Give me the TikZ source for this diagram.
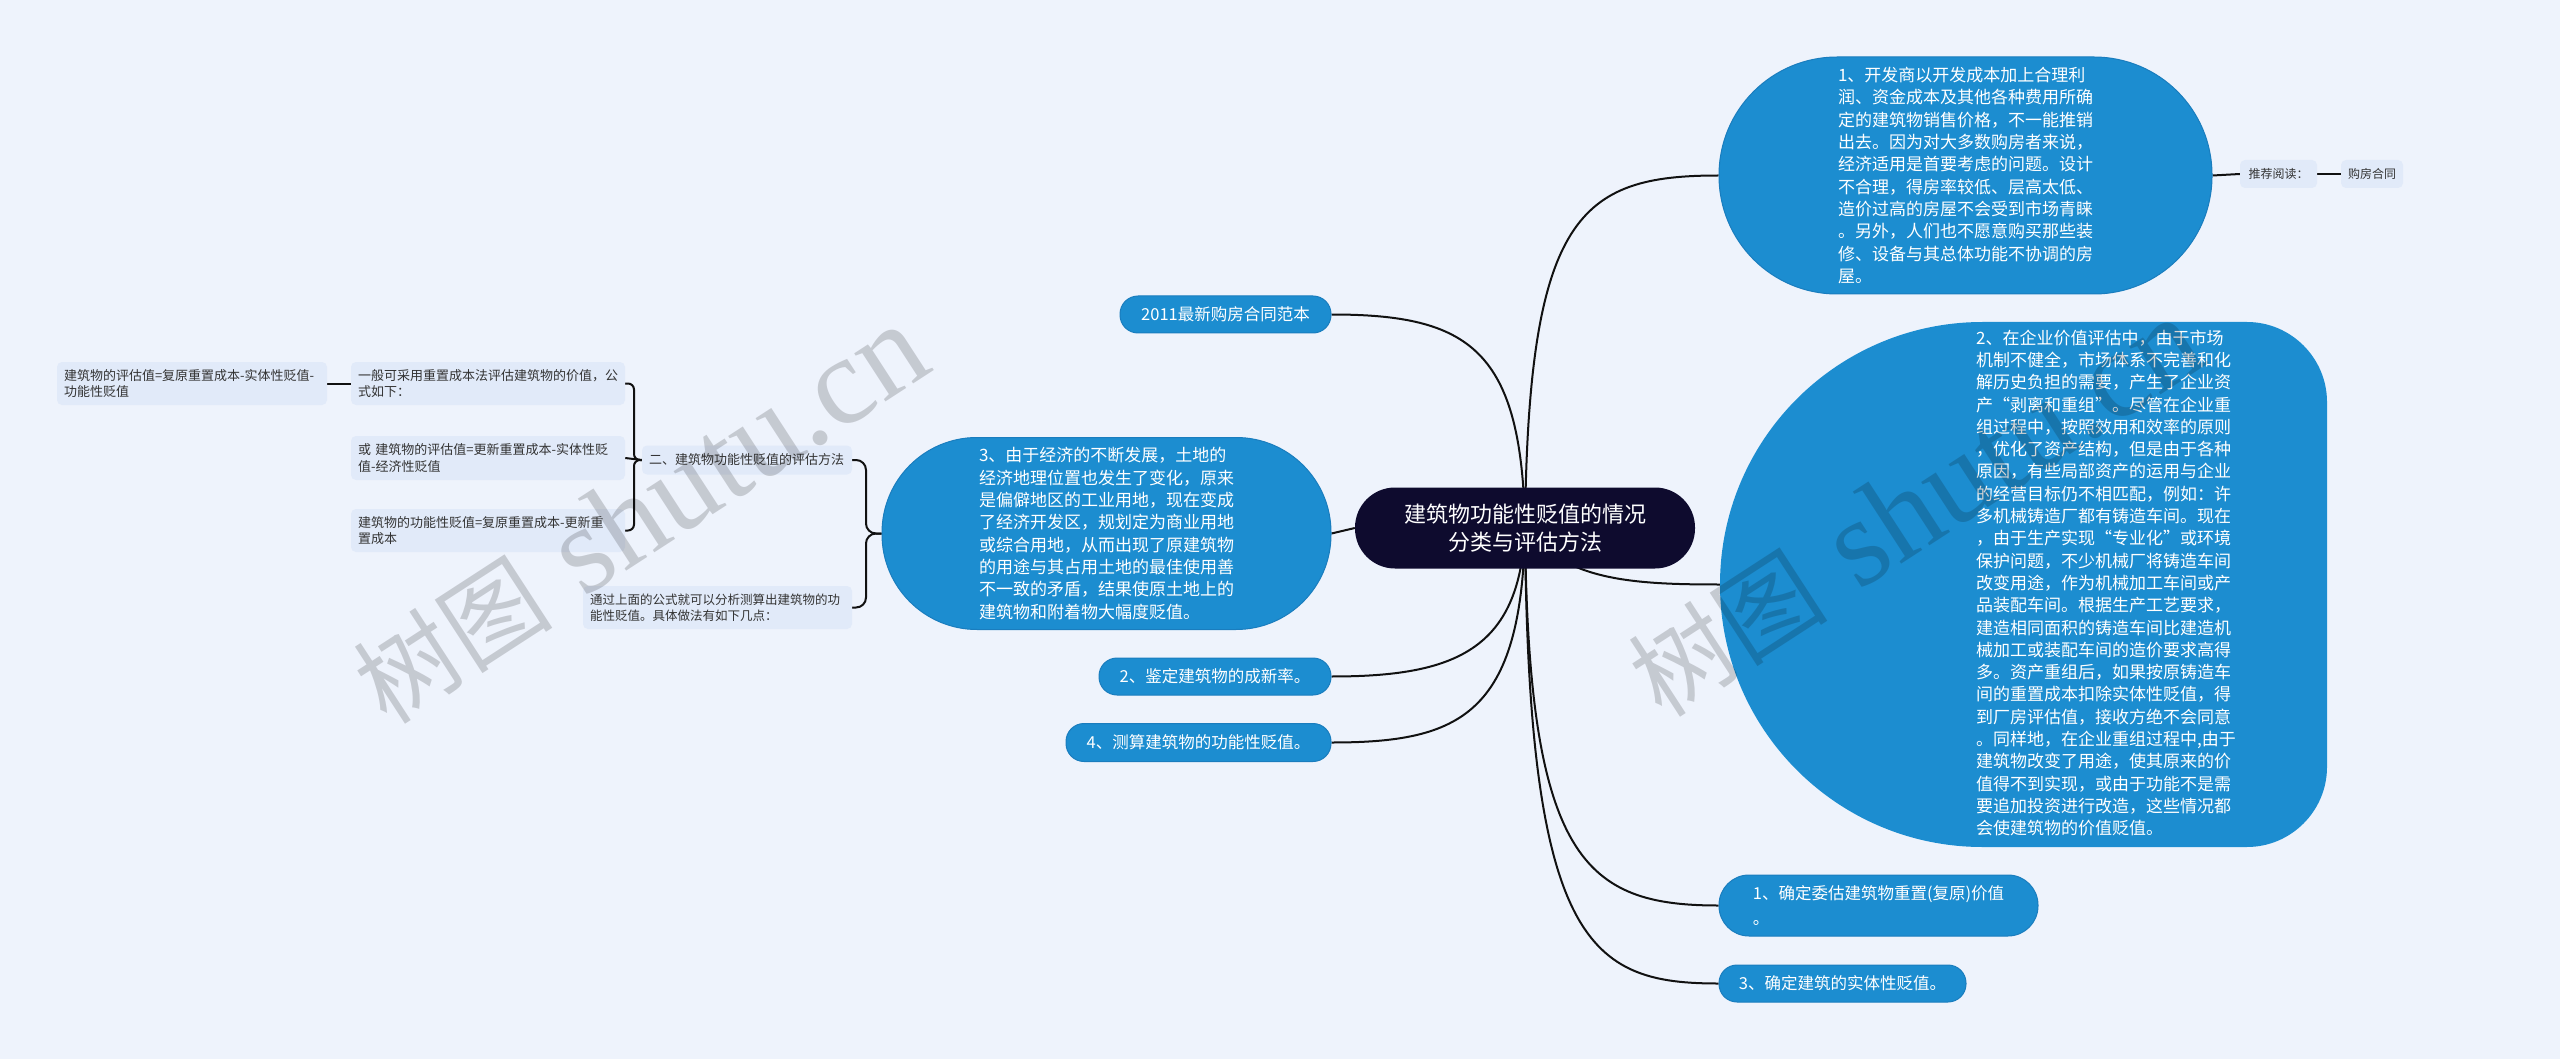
\documentclass[tikz,border=0pt]{standalone}
\usepackage{fontspec}
\setmainfont{Noto Sans CJK SC}
\newfontfamily\wmcjk{Noto Sans CJK SC}
\newfontfamily\wmlat{Liberation Serif}
\usetikzlibrary{calc}
\definecolor{bgc}{HTML}{EEF3FC}
\definecolor{nb}{HTML}{1C8DD0}
\definecolor{nbd}{HTML}{1A7DBE}
\definecolor{navy}{HTML}{0E0B2E}
\definecolor{lightbox}{HTML}{E1EAF9}
\definecolor{ltext}{HTML}{333333}
\definecolor{linec}{HTML}{111111}
\pgfdeclarelayer{back}
\pgfdeclarelayer{lines}
\pgfsetlayers{back,lines,main}
\tikzset{
  bluenode/.style={fill=nb, draw=nbd, line width=1, text=white, inner sep=0,
    font=\fontsize{17}{22.3}\selectfont, align=left},
  smallblue/.style={fill=nb, draw=nbd, line width=1, text=white, inner sep=0,
    font=\fontsize{16.5}{20}\selectfont, align=center, rounded corners=18},
  rootnode/.style={fill=navy, text=white, inner sep=0, align=center,
    font=\fontsize{22}{28}\selectfont, rounded corners=40,
    minimum width=340, minimum height=81},
  lbox/.style={fill=lightbox, text=ltext, rounded corners=5, inner xsep=7,
    inner ysep=0, align=left, font=\fontsize{13}{16.5}\selectfont},
  tbox/.style={fill=lightbox, text=ltext, rounded corners=5, inner sep=0,
    align=center, font=\fontsize{12}{14}\selectfont, minimum height=28},
  conn/.style={draw=linec, line width=2},
  wm/.style={text=black, text opacity=0.17, inner sep=0}
}
\newcommand\wmtext{{\wmcjk\fontsize{100}{100}\selectfont 树图}\hspace{34pt}{\wmlat\fontsize{125}{125}\selectfont shutu.cn}}
\begin{document}
\begin{tikzpicture}[x=1pt,y=-1pt]
\begin{pgfonlayer}{back}
\fill[bgc] (0,0) rectangle (2560,1059);
\end{pgfonlayer}
\useasboundingbox (0,0) rectangle (2560,1059);

% central
\node[rootnode] (c) at (1525,528) {建筑物功能性贬值的情况\\分类与评估方法};

% node 1
\node[bluenode, minimum width=493, minimum height=237, rounded corners=118] (n1) at (1965.5,175.5)
{1、开发商以开发成本加上合理利\\润、资金成本及其他各种费用所确\\定的建筑物销售价格，不一能推销\\出去。因为对大多数购房者来说，\\经济适用是首要考虑的问题。设计\\不合理，得房率较低、层高太低、\\造价过高的房屋不会受到市场青睐\\。另外，人们也不愿意购买那些装\\修、设备与其总体功能不协调的房\\屋。};

\node[tbox, minimum width=77] (tj) at (2278.5,174) {推荐阅读：};
\node[tbox, minimum width=62] (gf) at (2372,174) {购房合同};

% node 2 (shape drawn directly, text node on top)
\fill[nb] (1982.5,322) -- (2247,322) .. controls (2291,322) and (2327,358) .. (2327,402)
  -- (2327,767) .. controls (2327,811) and (2291,847) .. (2247,847)
  -- (1982.5,847) .. controls (1837.5,847) and (1720,729.5) .. (1720,584.5)
  .. controls (1720,439.5) and (1837.5,322) .. (1982.5,322) -- cycle;
\coordinate (n2w) at (1720,584.5);
\node[text=white, inner sep=0, align=left, font=\fontsize{17}{22.3}\selectfont] (n2) at (2106,583)
{2、在企业价值评估中，由于市场\\机制不健全，市场体系不完善和化\\解历史负担的需要，产生了企业资\\产“剥离和重组”。尽管在企业重\\组过程中，按照效用和效率的原则\\，优化了资产结构，但是由于各种\\原因，有些局部资产的运用与企业\\的经营目标仍不相匹配，例如：许\\多机械铸造厂都有铸造车间。现在\\，由于生产实现“专业化”或环境\\保护问题，不少机械厂将铸造车间\\改变用途，作为机械加工车间或产\\品装配车间。根据生产工艺要求，\\建造相同面积的铸造车间比建造机\\械加工或装配车间的造价要求高得\\多。资产重组后，如果按原铸造车\\间的重置成本扣除实体性贬值，得\\到厂房评估值，接收方绝不会同意\\。同样地，在企业重组过程中,由于\\建筑物改变了用途，使其原来的价\\值得不到实现，或由于功能不是需\\要追加投资进行改造，这些情况都\\会使建筑物的价值贬值。};

% right small nodes
\node[bluenode, font=\fontsize{16.5}{25}\selectfont, minimum width=319, minimum height=61, rounded corners=30] (q1) at (1878.5,905.5)
{1、确定委估建筑物重置(复原)价值\\。};
\node[smallblue, minimum width=247, minimum height=37] (q3) at (1842.5,983.5) {3、确定建筑的实体性贬值。};

% left-of-center nodes
\node[smallblue, minimum width=211, minimum height=37] (a2011) at (1225.5,314.5) {2011最新购房合同范本};
\node[bluenode, minimum width=449, minimum height=192, rounded corners=95] (n3) at (1106.5,533.5)
{3、由于经济的不断发展，土地的\\经济地理位置也发生了变化，原来\\是偏僻地区的工业用地，现在变成\\了经济开发区，规划定为商业用地\\或综合用地，从而出现了原建筑物\\的用途与其占用土地的最佳使用善\\不一致的矛盾，结果使原土地上的\\建筑物和附着物大幅度贬值。};
\node[smallblue, minimum width=232, minimum height=37] (jd) at (1215,676.5) {2、鉴定建筑物的成新率。};
\node[smallblue, minimum width=265, minimum height=38] (cs) at (1198.5,742.5) {4、测算建筑物的功能性贬值。};

% light boxes on the left
\node[lbox, text width=256, minimum height=43] (bA) at (192,383.5) {建筑物的评估值=复原重置成本-实体性贬值-\\功能性贬值};
\node[lbox, text width=260, minimum height=43] (bB) at (488,383.5) {一般可采用重置成本法评估建筑物的价值，公\\式如下：};
\node[lbox, text width=260, minimum height=44] (bC) at (488,458) {或 建筑物的评估值=更新重置成本-实体性贬\\值-经济性贬值};
\node[lbox, text width=260, minimum height=43] (bD) at (488,530.5) {建筑物的功能性贬值=复原重置成本-更新重\\置成本};
\node[lbox, text width=196, minimum height=29] (er) at (747,460) {二、建筑物功能性贬值的评估方法};
\node[lbox, text width=255, minimum height=43, font=\fontsize{12.5}{16}\selectfont] (tg) at (717.5,607.5) {通过上面的公式就可以分析测算出建筑物的功\\能性贬值。具体做法有如下几点：};

% connectors
\begin{pgfonlayer}{lines}
\draw[conn] (c.center) .. controls (1528,215) and (1580,175.5) .. (n1.west);
\draw[conn] (n1.east) -- (tj.west);
\draw[conn] (tj.east) -- (gf.west);
\draw[conn] (c.center) .. controls (1522,350) and (1470,314.5) .. (a2011.east);
\draw[conn] (c.west) -- (n3.east);
\draw[conn] (c.center) .. controls (1565,580) and (1630,584.5) .. (n2w);
\draw[conn] (c.center) .. controls (1520,650) and (1455,676.5) .. (jd.east);
\draw[conn] (c.center) .. controls (1522,715) and (1460,742.5) .. (cs.east);
\draw[conn] (c.center) .. controls (1528,860) and (1585,905.5) .. (q1.west);
\draw[conn] (c.center) .. controls (1528,945) and (1590,983.5) .. (q3.west);
\draw[conn, rounded corners=10] (n3.west) -- (866,533.5) |- (er.east);
\draw[conn, rounded corners=10] (n3.west) -- (866,533.5) |- (tg.east);
\draw[conn, rounded corners=6] (er.west) -- (634,460) |- (bB.east);
\draw[conn, rounded corners=6] (er.west) -- (634,460) |- (bD.east);
\draw[conn] (er.west) -- (bC.east);
\draw[conn] (bB.west) -- (bA.east);
\end{pgfonlayer}

% watermarks
\node[wm, rotate=33] (wm1) at (640,515) {\wmtext};
\node[wm, rotate=33] (wm2) at (1915,508) {\wmtext};
\end{tikzpicture}
\end{document}
